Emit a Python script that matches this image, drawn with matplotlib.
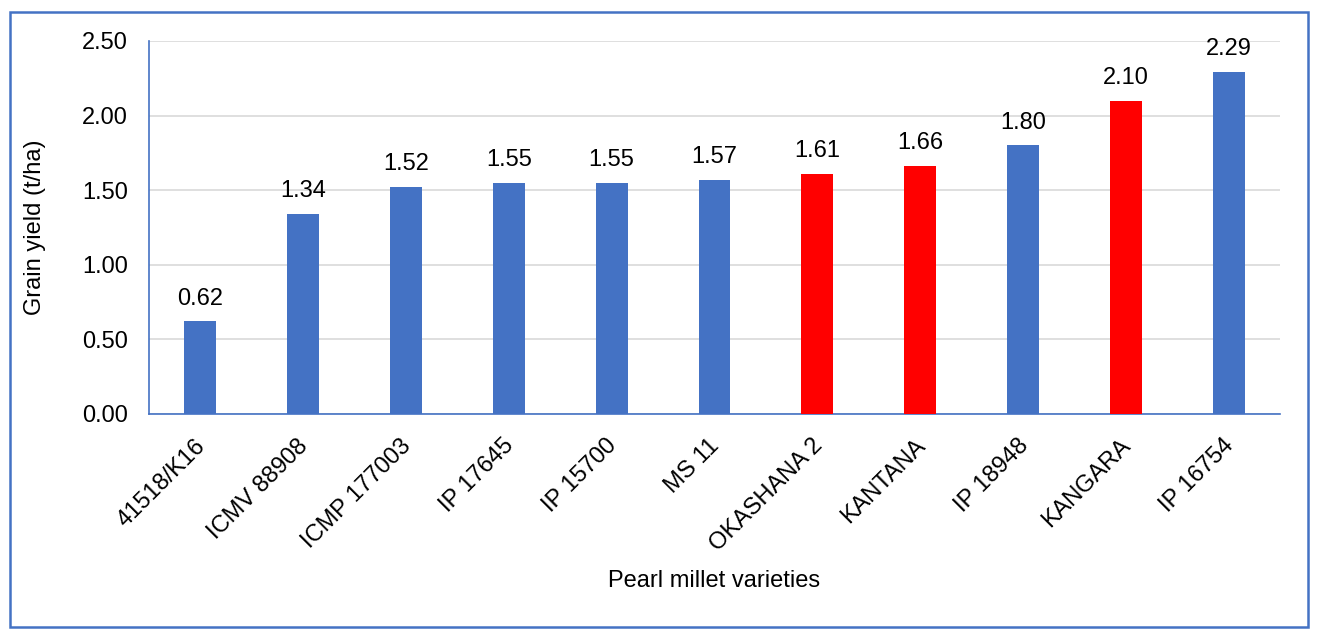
import matplotlib.pyplot as plt
from matplotlib.patches import Rectangle
from matplotlib.transforms import ScaledTranslation

plt.rcParams['font.family'] = ['Liberation Sans', 'DejaVu Sans']

varieties = ["41518/K16", "ICMV 88908", "ICMP 177003", "IP 17645", "IP 15700",
             "MS 11", "OKASHANA 2", "KANTANA", "IP 18948", "KANGARA", "IP 16754"]
yields = [0.62, 1.34, 1.52, 1.55, 1.55, 1.57, 1.61, 1.66, 1.80, 2.10, 2.29]
highlight = ["OKASHANA 2", "KANTANA", "KANGARA"]

blue = "#4472C4"
red = "#FF0000"
colors = [red if v in highlight else blue for v in varieties]
fs = 17

fig = plt.figure(figsize=(13.18, 6.29), dpi=100)
ax = fig.add_axes([149 / 1318, 1 - 414 / 629, (1280 - 149) / 1318, (414 - 41) / 629])

x = range(len(varieties))
bars = ax.bar(x, yields, width=0.31, color=colors, zorder=3)
for b, v in zip(bars, yields):
    ax.text(b.get_x() + b.get_width() / 2, v + 0.08, f"{v:.2f}",
            ha="center", va="bottom", fontsize=fs)

ax.set_xlim(-0.5, len(varieties) - 0.5)
ax.set_ylim(0, 2.5)
ax.set_yticks([0, 0.5, 1.0, 1.5, 2.0, 2.5])
ax.set_yticklabels([f"{t:.2f}" for t in ax.get_yticks()], fontsize=fs)
ax.set_xticks(list(x))
ax.set_xticklabels(varieties, rotation=45, ha="right", rotation_mode="anchor", fontsize=fs)
ax.tick_params(length=0)
ax.tick_params(axis="y", pad=15)
ax.tick_params(axis="x", pad=15)
shift = ScaledTranslation(-6 / 100, 0, fig.dpi_scale_trans)
for lbl in ax.get_xticklabels():
    lbl.set_transform(lbl.get_transform() + shift)
ax.grid(axis="y", color="#D9D9D9", linewidth=1.2, zorder=0)

for side in ("top", "right"):
    ax.spines[side].set_visible(False)
for side in ("left", "bottom"):
    ax.spines[side].set_color(blue)
    ax.spines[side].set_linewidth(1.2)

ax.set_ylabel("Grain yield (t/ha)", fontsize=fs, labelpad=26)
ax.set_xlabel("Pearl millet varieties", fontsize=fs, labelpad=10)

# outer frame around the whole chart
fig.patches.append(Rectangle((10 / 1318, 2 / 629), 1298 / 1318, 615 / 629,
                             transform=fig.transFigure, fill=False,
                             edgecolor=blue, linewidth=1.8))

fig.savefig("out.png", dpi=100)
